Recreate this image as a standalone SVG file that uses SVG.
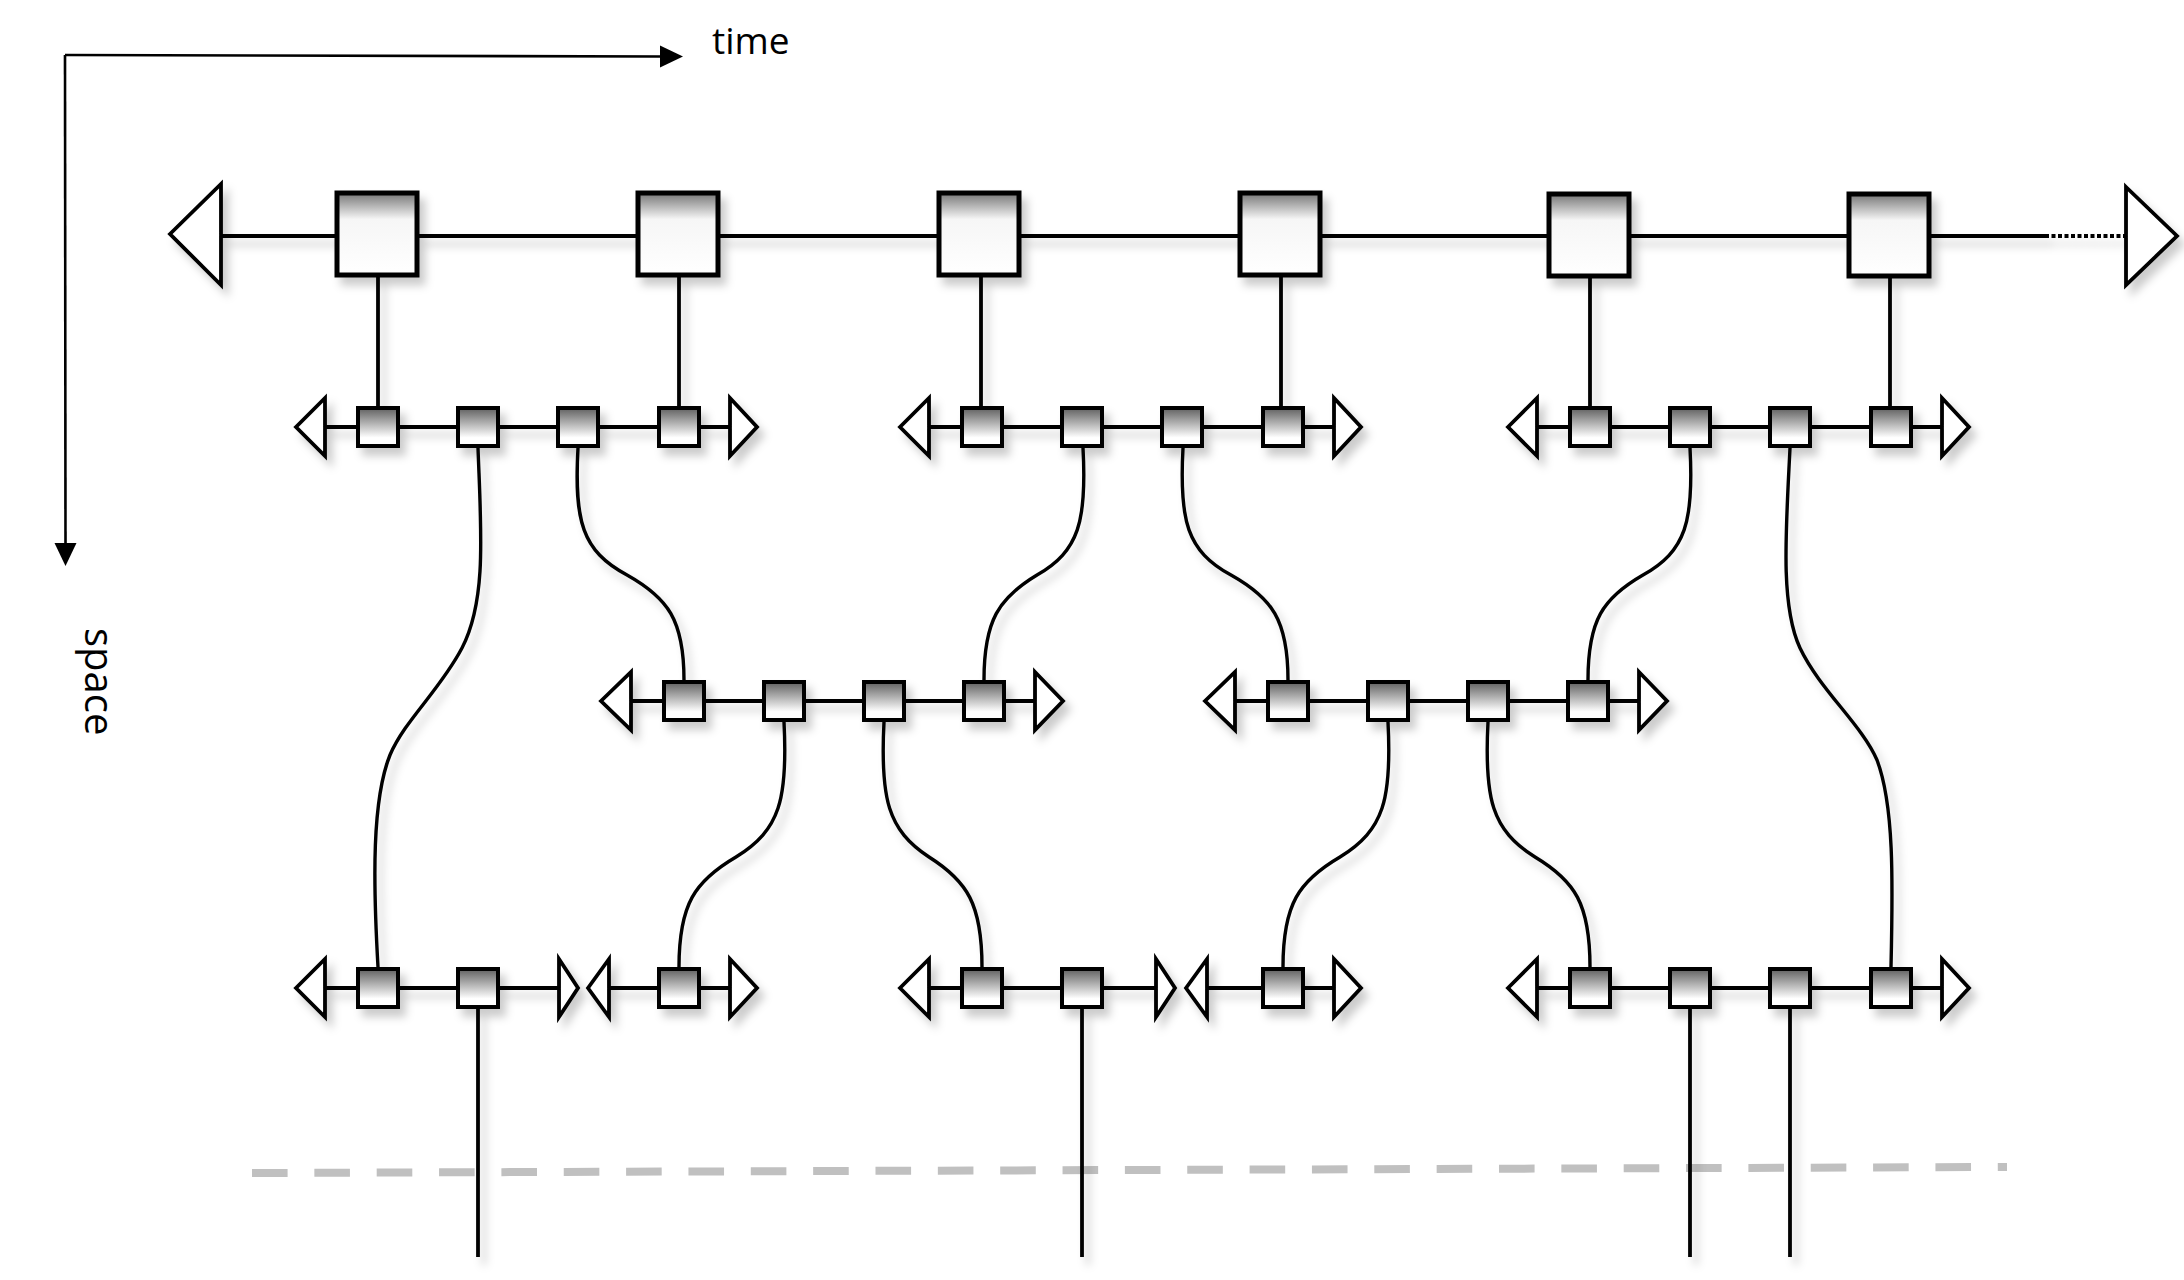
<svg xmlns="http://www.w3.org/2000/svg" width="2184" height="1280" viewBox="0 0 2184 1280">
<defs>
<linearGradient id="gb" x1="0" y1="0" x2="0" y2="1">
<stop offset="0" stop-color="#767676"/><stop offset="0.32" stop-color="#f6f6f6"/><stop offset="1" stop-color="#ffffff"/>
</linearGradient>
<linearGradient id="gs" x1="0" y1="0" x2="0" y2="1">
<stop offset="0" stop-color="#606060"/><stop offset="0.78" stop-color="#ffffff"/><stop offset="1" stop-color="#ffffff"/>
</linearGradient>
<filter id="sh" filterUnits="userSpaceOnUse" x="0" y="0" width="2184" height="1280">
<feDropShadow dx="6" dy="8" stdDeviation="4" flood-color="#000" flood-opacity="0.2"/>
</filter>
<style>
.ln{stroke:#000;stroke-width:3.8;fill:none}
.cv{stroke:#000;stroke-width:3.4;fill:none}
.tri{fill:#fff;stroke:#000;stroke-width:3.8;stroke-linejoin:miter}
.bb{fill:url(#gb);stroke:#000;stroke-width:5}
.sb{fill:url(#gs);stroke:#000;stroke-width:4}
.ax{stroke:#000;stroke-width:2.6;fill:none}
.lbl{font-family:"Open Sans","DejaVu Sans",sans-serif;fill:#000}
</style>
</defs>
<rect width="2184" height="1280" fill="#fff"/>
<g id="axes">
<line class="ax" x1="65" y1="55" x2="662" y2="56.5"/>
<polygon points="660,45.5 683,56.5 660,67.5" fill="#000"/>
<line class="ax" x1="65" y1="55" x2="65.5" y2="545"/>
<polygon points="54.5,543 76.5,543 65.5,566" fill="#000"/>
<text class="lbl" x="712" y="54" font-size="37">time</text>
<text class="lbl" font-size="40" transform="translate(85,628) rotate(90)">space</text>
</g>
<line id="boundary" x1="252" y1="1173" x2="2007" y2="1167" stroke="#c0c0c0" stroke-width="8" stroke-dasharray="35.6 26.75"/>
<g filter="url(#sh)">
<g id="connectors">
<line class="ln" x1="221" y1="236" x2="2045" y2="236"/>
<line class="ln" x1="2045" y1="236" x2="2126" y2="236" stroke-dasharray="4 2.5"/>
<line class="ln" x1="378" y1="277" x2="378" y2="408"/>
<line class="ln" x1="679" y1="277" x2="679" y2="408"/>
<line class="ln" x1="981" y1="277" x2="981" y2="408"/>
<line class="ln" x1="1281" y1="277" x2="1281" y2="408"/>
<line class="ln" x1="1590" y1="277" x2="1590" y2="408"/>
<line class="ln" x1="1890" y1="277" x2="1890" y2="408"/>
<path class="cv" d="M478,448 C481,530 487,600 462,648 C440,690 405,720 390,755 C372,800 373,880 378,967"/>
<path class="cv" d="M578,448 C574,521 582,551 627,575 C668,598 684,620 684,680"/>
<path class="cv" d="M1083,448 C1087,521 1079,551 1037,575 C999,598 984,620 984,680"/>
<path class="cv" d="M1183,448 C1179,521 1187,551 1231,575 C1272,598 1288,620 1288,680"/>
<path class="cv" d="M1690,448 C1694,521 1686,551 1643,575 C1603,598 1588,620 1588,680"/>
<path class="cv" d="M1790,448 C1786,530 1780,605 1800,648 C1820,690 1862,725 1877,760 C1894,805 1893,880 1891,967"/>
<path class="cv" d="M784,722 C788,799 780,830 736,857 C695,881 679,904 679,967"/>
<path class="cv" d="M884,722 C880,799 888,830 929,857 C967,881 982,904 982,967"/>
<path class="cv" d="M1388,722 C1392,799 1384,830 1340,857 C1299,881 1283,904 1283,967"/>
<path class="cv" d="M1488,722 C1484,799 1492,830 1535,857 C1575,881 1590,904 1590,967"/>
<line class="ln" x1="478" y1="1009" x2="478" y2="1257"/>
<line class="ln" x1="1082" y1="1009" x2="1082" y2="1257"/>
<line class="ln" x1="1690" y1="1009" x2="1690" y2="1257"/>
<line class="ln" x1="1790" y1="1009" x2="1790" y2="1257"/>
</g>
<g id="top-ends">
<polygon class="tri" points="170,234 221,184 221,285"/>
<polygon class="tri" points="2126,187 2177,236 2126,285"/>
</g>
<g id="big1"><rect class="bb" x="337" y="193" width="80" height="82"/></g>
<g id="big2"><rect class="bb" x="638" y="193" width="80" height="82"/></g>
<g id="big3"><rect class="bb" x="939" y="193" width="80" height="82"/></g>
<g id="big4"><rect class="bb" x="1240" y="193" width="80" height="82"/></g>
<g id="big5"><rect class="bb" x="1549" y="194" width="80" height="82"/></g>
<g id="big6"><rect class="bb" x="1849" y="194" width="80" height="82"/></g>

<g id="railA"><line class="ln" x1="325" y1="427" x2="730" y2="427"/><polygon class="tri" points="296,427 325,398 325,456"/><polygon class="tri" points="730,398 757,427 730,456"/></g>
<g id="railB"><line class="ln" x1="929" y1="427" x2="1334" y2="427"/><polygon class="tri" points="900,427 929,398 929,456"/><polygon class="tri" points="1334,398 1361,427 1334,456"/></g>
<g id="railC"><line class="ln" x1="1537" y1="427" x2="1942" y2="427"/><polygon class="tri" points="1508,427 1537,398 1537,456"/><polygon class="tri" points="1942,398 1969,427 1942,456"/></g>
<g id="railD"><line class="ln" x1="631" y1="701" x2="1035" y2="701"/><polygon class="tri" points="601,701 631,672 631,730"/><polygon class="tri" points="1035,672 1063,701 1035,730"/></g>
<g id="railE"><line class="ln" x1="1235" y1="701" x2="1639" y2="701"/><polygon class="tri" points="1205,701 1235,672 1235,730"/><polygon class="tri" points="1639,672 1667,701 1639,730"/></g>
<g id="railF"><line class="ln" x1="325" y1="988" x2="559" y2="988"/><polygon class="tri" points="296,988 325,959 325,1017"/><polygon class="tri" points="559,959 578,988 559,1017"/></g>
<g id="railG"><line class="ln" x1="609" y1="988" x2="730" y2="988"/><polygon class="tri" points="588,988 609,959 609,1017"/><polygon class="tri" points="730,959 757,988 730,1017"/></g>
<g id="railH"><line class="ln" x1="929" y1="988" x2="1156" y2="988"/><polygon class="tri" points="900,988 929,959 929,1017"/><polygon class="tri" points="1156,959 1175,988 1156,1017"/></g>
<g id="railI"><line class="ln" x1="1207" y1="988" x2="1334" y2="988"/><polygon class="tri" points="1186,988 1207,959 1207,1017"/><polygon class="tri" points="1334,959 1361,988 1334,1017"/></g>
<g id="railJ"><line class="ln" x1="1537" y1="988" x2="1942" y2="988"/><polygon class="tri" points="1508,988 1537,959 1537,1017"/><polygon class="tri" points="1942,959 1969,988 1942,1017"/></g>

<g id="a1"><rect class="sb" x="358" y="408" width="40" height="38"/></g>
<g id="a2"><rect class="sb" x="458" y="408" width="40" height="38"/></g>
<g id="a3"><rect class="sb" x="558" y="408" width="40" height="38"/></g>
<g id="a4"><rect class="sb" x="659" y="408" width="40" height="38"/></g>
<g id="b1"><rect class="sb" x="962" y="408" width="40" height="38"/></g>
<g id="b2"><rect class="sb" x="1062" y="408" width="40" height="38"/></g>
<g id="b3"><rect class="sb" x="1162" y="408" width="40" height="38"/></g>
<g id="b4"><rect class="sb" x="1263" y="408" width="40" height="38"/></g>
<g id="c1"><rect class="sb" x="1570" y="408" width="40" height="38"/></g>
<g id="c2"><rect class="sb" x="1670" y="408" width="40" height="38"/></g>
<g id="c3"><rect class="sb" x="1770" y="408" width="40" height="38"/></g>
<g id="c4"><rect class="sb" x="1871" y="408" width="40" height="38"/></g>
<g id="d1"><rect class="sb" x="664" y="682" width="40" height="38"/></g>
<g id="d2"><rect class="sb" x="764" y="682" width="40" height="38"/></g>
<g id="d3"><rect class="sb" x="864" y="682" width="40" height="38"/></g>
<g id="d4"><rect class="sb" x="964" y="682" width="40" height="38"/></g>
<g id="e1"><rect class="sb" x="1268" y="682" width="40" height="38"/></g>
<g id="e2"><rect class="sb" x="1368" y="682" width="40" height="38"/></g>
<g id="e3"><rect class="sb" x="1468" y="682" width="40" height="38"/></g>
<g id="e4"><rect class="sb" x="1568" y="682" width="40" height="38"/></g>
<g id="f1"><rect class="sb" x="358" y="969" width="40" height="38"/></g>
<g id="f2"><rect class="sb" x="458" y="969" width="40" height="38"/></g>
<g id="g1"><rect class="sb" x="659" y="969" width="40" height="38"/></g>
<g id="h1"><rect class="sb" x="962" y="969" width="40" height="38"/></g>
<g id="h2"><rect class="sb" x="1062" y="969" width="40" height="38"/></g>
<g id="i1"><rect class="sb" x="1263" y="969" width="40" height="38"/></g>
<g id="j1"><rect class="sb" x="1570" y="969" width="40" height="38"/></g>
<g id="j2"><rect class="sb" x="1670" y="969" width="40" height="38"/></g>
<g id="j3"><rect class="sb" x="1770" y="969" width="40" height="38"/></g>
<g id="j4"><rect class="sb" x="1871" y="969" width="40" height="38"/></g>
</g>
</svg>
